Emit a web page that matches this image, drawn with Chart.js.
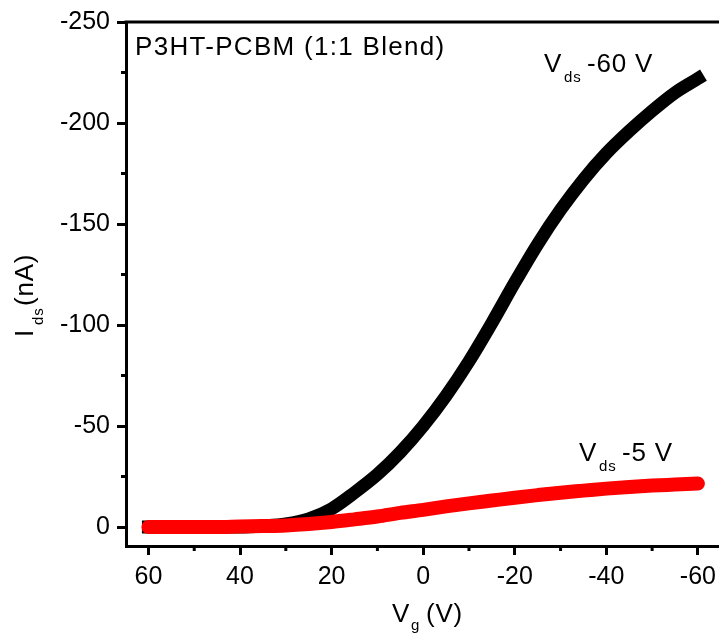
<!DOCTYPE html>
<html lang="en">
<head>
    <meta charset="UTF-8">
    <title>P3HT-PCBM transfer curves</title>
    <script src="https://cdn.jsdelivr.net/npm/chart.js"></script>
    <style>
        body { margin: 0; background: #fff; overflow: hidden; }
        #wrap { width: 723px; height: 633px; }
    </style>
</head>
<body>
    <div id="wrap"><canvas id="transferChart" width="723" height="633"></canvas></div>

    <script>
        // gate voltage (V), one reading every 5 V
        const vgValues = [60, 55, 50, 45, 40, 35, 30, 25, 20, 15, 10, 5, 0,
                          -5, -10, -15, -20, -25, -30, -35, -40, -45, -50, -55, -60];
        // drain current (nA) at Vds = -60 V
        const idsVds60 = [0, 0, 0, 0, 0, -0.5, -1.5, -4, -9, -17, -26, -37, -50,
                          -65, -82, -101, -121, -140, -157, -172, -185, -196, -206, -215, -222];
        // drain current (nA) at Vds = -5 V
        const idsVds5 = [0, 0, 0, 0, -0.3, -0.5, -0.8, -1.5, -2.5, -3.8, -5.2, -7, -8.5,
                         -10.2, -11.7, -13.1, -14.5, -15.8, -17, -18, -19, -19.8, -20.5, -21, -21.5];

        const xTicks = [60, 40, 20, 0, -20, -40, -60];
        const xMinorTicks = [50, 30, 10, -10, -30, -50];
        const yTicks = [0, -50, -100, -150, -200, -250];
        const yMinorTicks = [-25, -75, -125, -175, -225];

        const FONT = '"Liberation Sans", Arial, sans-serif';

        function toPoints(ys) {
            return vgValues.map((v, i) => ({ x: v, y: ys[i] }));
        }

        // box top edge, minor ticks and the text labels
        const decorations = {
            id: 'decorations',
            afterDraw(chart) {
                const ctx = chart.ctx;
                const area = chart.chartArea;
                const xs = chart.scales.x;
                const ys = chart.scales.y;
                ctx.save();
                ctx.strokeStyle = '#000';
                ctx.lineWidth = 3;
                ctx.beginPath();
                ctx.moveTo(area.left - 1.5, area.top);
                ctx.lineTo(area.right, area.top);
                ctx.stroke();

                xMinorTicks.forEach(v => {
                    const px = xs.getPixelForValue(v);
                    ctx.beginPath();
                    ctx.moveTo(px, area.bottom);
                    ctx.lineTo(px, area.bottom + 5);
                    ctx.stroke();
                });
                yMinorTicks.forEach(v => {
                    const py = ys.getPixelForValue(v);
                    ctx.beginPath();
                    ctx.moveTo(area.left, py);
                    ctx.lineTo(area.left - 5, py);
                    ctx.stroke();
                });

                ctx.fillStyle = '#000';
                ctx.textBaseline = 'alphabetic';
                ctx.textAlign = 'left';
                const big = '26px ' + FONT;
                const sub = '15px ' + FONT;

                ctx.font = big;
                ctx.letterSpacing = '1.3px';
                ctx.fillText('P3HT-PCBM (1:1 Blend)', 135, 55);
                ctx.letterSpacing = '0.8px';

                ctx.fillText('V', 544, 72);
                ctx.font = sub;
                ctx.fillText('ds', 564, 82);
                ctx.font = big;
                ctx.fillText('-60 V', 587, 72);

                ctx.fillText('V', 579, 461);
                ctx.font = sub;
                ctx.fillText('ds', 599, 471);
                ctx.font = big;
                ctx.fillText('-5 V', 622, 461);

                ctx.fillText('V', 392, 622);
                ctx.font = sub;
                ctx.fillText('g', 411, 630);
                ctx.font = big;
                ctx.fillText('(V)', 426, 622);

                ctx.translate(33, 337);
                ctx.rotate(-Math.PI / 2);
                ctx.fillText('I', 0, 0);
                ctx.font = sub;
                ctx.fillText('ds', 12, 10);
                ctx.font = big;
                ctx.fillText('(nA)', 31, 0);
                ctx.restore();
            }
        };

        const axisCommon = {
            type: 'linear',
            reverse: true,
            border: { color: '#000', width: 3 },
            grid: { drawOnChartArea: false, tickLength: 9, tickWidth: 3, tickColor: '#000' },
            ticks: {
                color: '#000',
                font: { family: FONT, size: 25 },
                autoSkip: false,
                maxRotation: 0,
                callback: v => String(v)
            }
        };

        new Chart(document.getElementById('transferChart'), {
            type: 'line',
            data: {
                datasets: [
                    {
                        label: 'Vds -5 V',
                        data: toPoints(idsVds5),
                        borderColor: '#ff0000',
                        borderWidth: 14,
                        borderCapStyle: 'round',
                        borderJoinStyle: 'round',
                        pointRadius: 0,
                        cubicInterpolationMode: 'monotone'
                    },
                    {
                        label: 'Vds -60 V',
                        data: toPoints(idsVds60),
                        borderColor: '#000000',
                        borderWidth: 13,
                        borderCapStyle: 'square',
                        pointRadius: 0,
                        cubicInterpolationMode: 'monotone'
                    }
                ]
            },
            options: {
                responsive: false,
                animation: false,
                layout: { padding: { top: 20, right: 0, left: 0, bottom: 0 } },
                plugins: { legend: { display: false }, tooltip: { enabled: false } },
                scales: {
                    x: Object.assign({}, axisCommon, {
                        min: -64.6,
                        max: 64.9,
                        afterBuildTicks: s => { s.ticks = xTicks.map(v => ({ value: v })); },
                        afterFit: s => { s.height = 87; },
                        ticks: Object.assign({}, axisCommon.ticks, { padding: 7 })
                    }),
                    y: Object.assign({}, axisCommon, {
                        min: -250,
                        max: 9.4,
                        afterBuildTicks: s => { s.ticks = yTicks.map(v => ({ value: v })); },
                        afterFit: s => { s.width = 126; },
                        ticks: Object.assign({}, axisCommon.ticks, { padding: 7 })
                    })
                }
            },
            plugins: [decorations]
        });
    </script>
</body>
</html>
